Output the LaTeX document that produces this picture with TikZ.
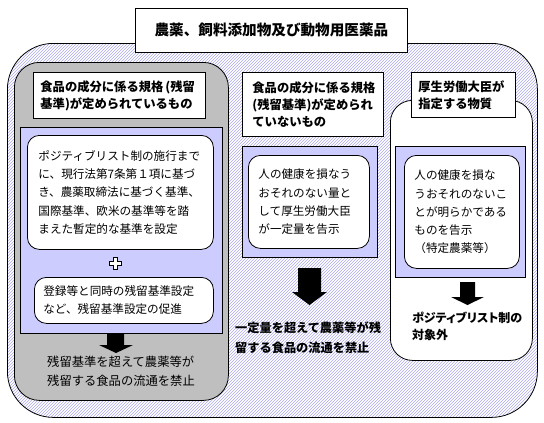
\documentclass[tikz,border=0pt]{standalone}
\usepackage{fontspec}
\setmainfont{Noto Sans CJK JP}
\usepackage{tikz}
\usetikzlibrary{shapes.arrows, positioning, patterns}
\definecolor{lav}{RGB}{204,204,255}
\definecolor{hatch}{RGB}{170,170,235}

\begin{document}
\begin{tikzpicture}[
    x=1pt, y=-1pt,
    outer/.style={draw, line width=0.8pt, rounded corners=46pt, preaction={fill=white},
                  pattern=north east lines, pattern color=hatch, anchor=north west},
    titlebox/.style={draw, fill=white, line width=0.8pt, anchor=north west,
                     font=\fontsize{14.6}{18}\selectfont\bfseries},
    graybox/.style={draw, fill=gray!50, line width=0.8pt, rounded corners=25pt, anchor=north west},
    lavbox/.style={draw, fill=lav, line width=0.8pt, anchor=north west},
    colbox/.style={draw, fill=white, line width=0.8pt, rounded corners=22pt, anchor=north west},
    headbox/.style={draw, fill=white, line width=0.8pt, anchor=north west, align=left,
                    inner ysep=0pt, font=\fontsize{12.3}{17}\selectfont\bfseries},
    notebox/.style={draw, fill=white, line width=0.8pt, rounded corners=12pt, anchor=north west,
                    align=left, inner ysep=0pt, font=\fontsize{11.6}{18.2}\selectfont},
    result/.style={anchor=west, align=left, inner sep=0pt, font=\fontsize{12}{19}\selectfont},
    blockarrow/.style={fill=black}
]
\useasboundingbox (0,0) rectangle (544,423);

\node[outer, minimum width=530pt, minimum height=374pt] (all) at (7,43) {};
\node[titlebox, minimum width=272pt, minimum height=44pt] (title) at (135,8)
    {農薬、飼料添加物及び動物用医薬品};

\node[graybox, minimum width=214pt, minimum height=338pt] (colL) at (14,62) {};
\node[headbox, text width=158pt, inner xsep=7pt, minimum height=46pt] (headL) at (33,72)
    {食品の成分に係る規格\,(残留\\基準)が定められているもの};
\node[lavbox, minimum width=202pt, minimum height=206pt] (lavL) at (20,127) {};
\node[notebox, text width=164pt, inner xsep=11pt, minimum height=114pt] (ruleA) at (27,135)
    {ポジティブリスト制の施行まで\\に、現行法第7条第１項に基づ\\き、農薬取締法に基づく基準、\\国際基準、欧米の基準等を踏\\まえた暫定的な基準を設定};
\node[notebox, text width=161pt, inner xsep=9pt, minimum height=46pt] (ruleB) at (34,277)
    {登録等と同時の残留基準設定\\など、残留基準設定の促進};
\fill[blockarrow] (107,333) -- (124,333) -- (124,345) -- (133,345) -- (116,353) -- (99,345) -- (107,345) -- cycle;
\node[result, font=\fontsize{12.3}{19}\selectfont] (banL) at (47,371) {残留基準を超えて農薬等が\\残留する食品の流通を禁止};

\node[headbox, text width=121pt, inner xsep=10pt, minimum height=64pt] (headM) at (242,72)
    {食品の成分に係る規格\\(残留基準)が定められ\\ていないもの};
\node[lavbox, minimum width=135pt, minimum height=111pt] (lavM) at (242,146) {};
\node[notebox, text width=101pt, inner xsep=10pt, minimum height=93pt] (ruleM) at (248,155)
    {人の健康を損なう\\おそれのない量と\\して厚生労働大臣\\が一定量を告示};
\fill[blockarrow] (298,268) -- (321,268) -- (321,292) -- (327,292) -- (309.5,305) -- (292,292) -- (298,292) -- cycle;
\node[result, font=\fontsize{12.2}{20}\selectfont\bfseries] (banM) at (235,338) {一定量を超えて農薬等が残\\留する食品の流通を禁止};

\node[colbox, minimum width=142pt, minimum height=260pt] (colR) at (390,100) {};
\node[headbox, text width=90pt, inner xsep=7pt, minimum height=45pt] (headR) at (411,72)
    {厚生労働大臣が\\指定する物質};
\node[lavbox, minimum width=130pt, minimum height=131pt] (lavR) at (395,146) {};
\node[notebox, text width=95pt, inner xsep=10pt, minimum height=113pt] (ruleR) at (404,155)
    {人の健康を損な\\うおそれのないこ\\とが明らかである\\ものを告示\\（特定農薬等）};
\fill[blockarrow] (460,282) -- (475,282) -- (475,297) -- (484,297) -- (467.5,305) -- (451,297) -- (460,297) -- cycle;
\node[result, font=\fontsize{12}{17}\selectfont\bfseries\addfontfeatures{RawFeature=+palt}] (banR) at (412,326.5)
    {ポジティブリスト制の\\対象外};

\draw[fill=white, line width=0.7pt] (113,257) -- (117,257) -- (117,261) -- (121,261) -- (121,265)
    -- (117,265) -- (117,269) -- (113,269) -- (113,265) -- (109,265) -- (109,261) -- (113,261) -- cycle;
\end{tikzpicture}
\end{document}
